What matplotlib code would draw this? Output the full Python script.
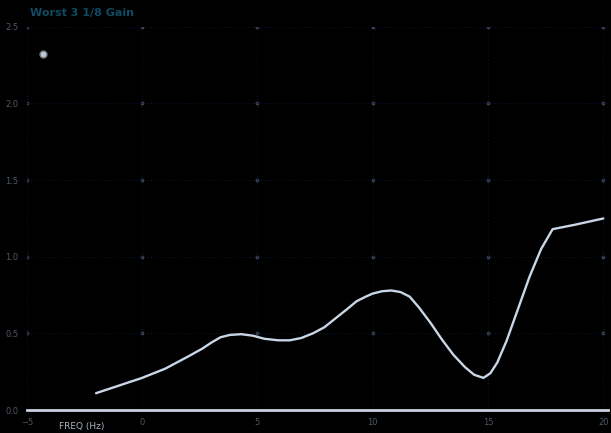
import numpy as np
from matplotlib import pyplot as plt

# values
freq = [-2.0, -1.0, 0.0, 1.0, 2.0, 2.6, 3.0, 3.4, 3.8, 4.3, 4.8, 5.3, 5.9, 6.4, 6.9, 7.4, 7.9,
        8.4, 8.9, 9.3, 9.7, 10.0, 10.4, 10.8, 11.2, 11.6, 12.0, 12.5, 13.0, 13.5, 14.0, 14.4,
        14.8, 15.1, 15.4, 15.8, 16.3, 16.8, 17.3, 17.8, 18.8, 20.0]
gain = [0.11, 0.16, 0.21, 0.27, 0.35, 0.40, 0.44, 0.475, 0.49, 0.495, 0.485, 0.465, 0.455, 0.455,
        0.47, 0.50, 0.54, 0.60, 0.66, 0.71, 0.74, 0.76, 0.775, 0.78, 0.77, 0.74, 0.67, 0.57,
        0.46, 0.36, 0.28, 0.23, 0.21, 0.24, 0.31, 0.45, 0.66, 0.87, 1.05, 1.18, 1.21, 1.25]
x_ticks = [-5, 0, 5, 10, 15, 20]
y_ticks = [0, 0.5, 1, 1.5, 2, 2.5]

fig = plt.figure(figsize=(6.11, 4.33), dpi=100, facecolor='black')
ax = fig.add_axes([0.044, 0.053, 0.951, 0.885], facecolor='black')

ax.plot(freq, gain, color='#c8d6e6', lw=1.7, solid_capstyle='round', solid_joinstyle='round')

ax.set_xlim(-5, 20.2)
ax.set_ylim(0, 2.5)
ax.set_xticks(x_ticks)
ax.set_yticks(y_ticks)
ax.grid(True, color='#0c1430', lw=0.8, ls=(0, (1, 2)))
gx, gy = np.meshgrid(x_ticks, y_ticks[1:])
ax.scatter(gx.ravel(), gy.ravel(), s=3, color='#3a4654', zorder=1)

for s in ['top', 'right', 'left']:
    ax.spines[s].set_visible(False)
ax.spines['bottom'].set_color('#c8d4e2')
ax.spines['bottom'].set_linewidth(2)
ax.tick_params(colors='#4e5864', labelsize=6, length=0, pad=6)

ax.set_title('Worst 3 1/8 Gain', loc='left', color='#104a64', fontsize=8,
             fontweight='bold', x=0.005, y=1.0, pad=8)
ax.text(0.055, -0.03, 'FREQ (Hz)', transform=ax.transAxes, color='#aab2be',
        fontsize=6.5, va='top')
ax.plot([0.028], [0.93], 'o', transform=ax.transAxes, ms=5, mfc='#c0c8d4',
        mec='#707880', clip_on=False)

fig.savefig('out.png', dpi=100, facecolor='black')
